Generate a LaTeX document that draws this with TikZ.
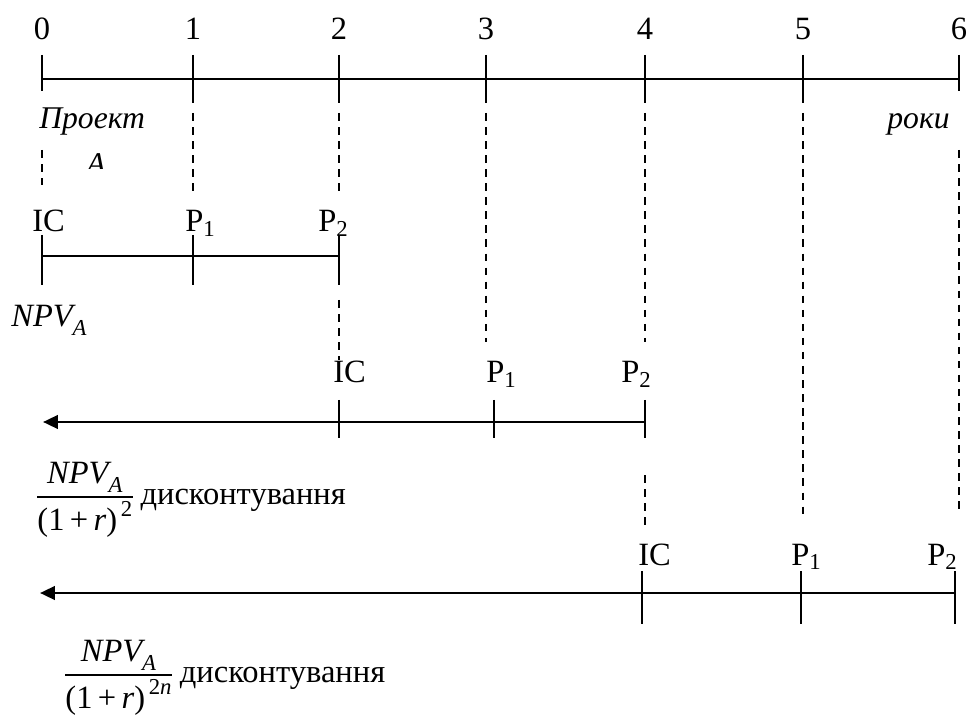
\documentclass[tikz,border=0pt]{standalone}
\usepackage{amsmath}
\usepackage{fontspec}
\setmainfont{Liberation Serif}
\usetikzlibrary{arrows.meta}
\newcommand{\subA}{_{\text{\raisebox{-2.5pt}{\itshape A}}}}
\newcommand{\npvfrac}[1]{$\displaystyle\frac{\text{\itshape NPV}\subA}{\text{(1\,+\,\itshape r\/\upshape)}^{\,\text{#1}}}$}
\begin{document}
\begin{tikzpicture}[x=0.02cm,y=-0.02cm,
    axisln/.style={line width=1.1pt},
    dashln/.style={line width=1pt,dash pattern=on 4.3pt off 3.7pt},
    backln/.style={line width=1.6pt,-{Triangle[length=0.3cm,width=0.27cm]}},
    lbl/.style={inner sep=0pt,anchor=base west,font=\fontsize{18.5}{21}\selectfont}]

    \useasboundingbox (0,0) rectangle (972,715);

    %draw years axis:
    \draw[axisln] (42,79) -- (959,79);
    \foreach \x/\n in {42/0,193/1,339/2,486/3,645/4,803/5,959/6}
        \node[lbl,anchor=base] (yr\n) at (\x,40) {\n};
    \foreach \x in {42,959}
        \draw[axisln] (\x,55) -- (\x,91);
    \foreach \x in {193,339,486,645,803}
        \draw[axisln] (\x,55) -- (\x,103);
    \node[lbl,font=\fontsize{18}{21}\selectfont\itshape] (proj) at (39,129) {Проект};
    \begin{scope}
        \clip (60,140) rectangle (130,169);
        \node[lbl,font=\fontsize{18}{21}\selectfont\itshape] (projA) at (86,175) {А};
    \end{scope}
    \node[lbl,font=\fontsize{18}{21}\selectfont\itshape,anchor=base east] (years) at (950,129) {роки};

    %draw dashed guides:
    \foreach \x/\a/\b in {42/150/185,193/113/192,339/113/192,339/300/360,
                          486/113/342,645/113/342,645/475/525,803/113/515,959/150/515}
        \draw[dashln] (\x,\a) -- (\x,\b);

    %draw project A:
    \draw[axisln] (42,256) -- (339,256);
    \foreach \x in {42,193,339}
        \draw[axisln] (\x,235) -- (\x,285);
    \node[lbl] (ic1) at (32,232) {IC};
    \node[lbl] (pa1) at (185,232) {P$_{\text{1}}$};
    \node[lbl] (pb1) at (318,232) {P$_{\text{2}}$};
    \node[lbl] (npv) at (11,327) {\itshape NPV$\subA$};

    %draw first repeat:
    \draw[axisln] (339,422) -- (645,422);
    \draw[backln] (339,422) -- (43,422);
    \foreach \x in {339,494,645}
        \draw[axisln] (\x,400) -- (\x,438);
    \node[lbl] (ic2) at (333,383) {IC};
    \node[lbl] (pa2) at (486,383) {P$_{\text{1}}$};
    \node[lbl] (pb2) at (621,383) {P$_{\text{2}}$};
    \node[lbl,anchor=west] (disc2) at (35,500) {\npvfrac{2}\,дисконтування};

    %draw second repeat:
    \draw[axisln] (642,593) -- (955,593);
    \draw[backln] (642,593) -- (40,593);
    \foreach \x in {642,801,955}
        \draw[axisln] (\x,571) -- (\x,624);
    \node[lbl] (ic3) at (638,565) {IC};
    \node[lbl] (pa3) at (791,565) {P$_{\text{1}}$};
    \node[lbl] (pb3) at (927,565) {P$_{\text{2}}$};
    \node[lbl,anchor=west] (disc3) at (63,678) {\npvfrac{2\itshape n}\,дисконтування};

\end{tikzpicture}
\end{document}
